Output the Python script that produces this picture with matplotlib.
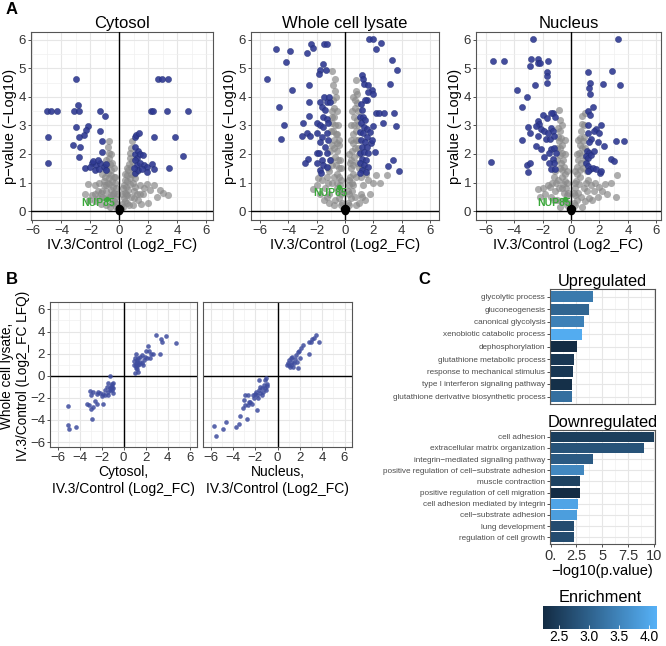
import numpy as np
import matplotlib.pyplot as plt
from matplotlib.colors import LinearSegmentedColormap, Normalize
from matplotlib.cm import ScalarMappable

plt.rcParams['font.family'] = ['Liberation Sans', 'DejaVu Sans']

# ---------------- data ----------------
# panel A: significant proteins (log2 FC, -log10 p)
cyto_sig = [(-2.99, 4.63), (-5.0, 3.51), (-4.74, 3.51), (-4.28, 3.51), (-3.13, 3.51), (-2.76, 3.51),
            (-1.33, 3.51), (-2.83, 3.72), (-1.01, 3.33), (-4.92, 2.61), (-4.9, 1.67), (-2.99, 2.95),
            (-2.14, 2.97), (-2.28, 2.84), (-2.46, 2.67), (-2.8, 2.61), (-1.33, 2.79), (-1.2, 2.44),
            (-3.22, 2.33), (-2.69, 2.26), (-2.78, 1.88), (-1.2, 2.07), (-2.37, 1.52), (-1.91, 1.67),
            (-1.61, 1.63), (-1.33, 1.67), (-1.1, 1.55), (-0.94, 1.43), (-1.68, 1.43), (-1.43, 1.49),
            (-2.02, 1.55), (-0.92, 1.64), (-1.8, 1.75), (-1.5, 1.8),
            (2.67, 4.63), (2.9, 4.63), (3.38, 4.63), (2.16, 3.51), (2.3, 3.51), (3.29, 3.51), (4.74, 3.51),
            (1.06, 2.6), (1.17, 2.67), (1.36, 2.72), (2.41, 2.61), (3.82, 2.61), (1.06, 2.0), (1.3, 2.1),
            (1.2, 1.85), (1.43, 2.0), (1.65, 1.95), (1.1, 2.25), (4.39, 1.93), (3.45, 1.52), (1.06, 1.78),
            (1.2, 1.61), (1.43, 1.69), (1.66, 1.61), (1.89, 1.55), (2.23, 1.64), (2.39, 1.49), (1.08, 1.34),
            (1.31, 1.43), (1.89, 1.38), (1.54, 1.49), (1.0, 1.5)]
whole_sig = [(-5.5, 4.64), (-4.85, 5.69), (-3.9, 5.61), (-4.19, 5.21), (-3.72, 4.23), (-4.66, 3.65),
             (-4.35, 3.02), (-4.56, 2.52), (-2.42, 5.86), (-2.26, 5.71), (-2.68, 5.55), (-1.51, 5.86),
             (-1.27, 5.86), (-1.58, 5.16), (-1.74, 4.95), (-1.32, 4.95), (-1.84, 4.81), (-2.56, 4.41),
             (-2.56, 3.82), (-2.56, 3.33), (-2.96, 3.07), (-3.01, 2.62), (-2.68, 2.72), (-2.47, 2.63),
             (-2.61, 1.84), (-2.8, 1.67), (-1.98, 3.09), (-1.76, 3.82), (-1.25, 3.82), (-1.06, 3.82),
             (-1.65, 3.65), (-1.41, 3.53), (-1.53, 3.3), (-1.29, 3.24), (-1.76, 3.0), (-1.53, 2.95),
             (-1.18, 3.07), (-2.0, 2.72), (-1.65, 2.6), (-1.29, 2.72), (-1.76, 2.42), (-1.41, 2.25),
             (-1.18, 2.48), (-2.0, 2.02), (-1.84, 2.02), (-1.29, 2.02), (-1.65, 1.78), (-2.0, 1.67),
             (-1.53, 1.61), (-1.76, 1.43), (-1.29, 1.55), (-1.69, 1.34), (-1.06, 1.78), (-1.48, 4.0),
             (-1.13, 4.0),
             (1.72, 6.01), (2.0, 6.01), (2.54, 5.89), (2.21, 5.69), (3.32, 5.3), (3.65, 4.95), (3.15, 4.44),
             (1.18, 4.75), (1.25, 4.64), (1.34, 4.46), (1.65, 4.41), (1.88, 4.23), (1.65, 4.17), (2.0, 4.09),
             (1.55, 3.88), (1.15, 3.76), (2.21, 3.44), (2.42, 3.44), (2.75, 3.44), (3.46, 3.44), (3.58, 2.97),
             (2.71, 3.07), (2.0, 2.97), (1.86, 2.37), (2.14, 2.07), (3.39, 1.78), (3.01, 1.58), (3.79, 1.41),
             (1.06, 3.3), (1.25, 3.3), (1.44, 3.18), (1.11, 3.07), (1.34, 2.95), (1.53, 2.89), (1.06, 2.77),
             (1.29, 2.72), (1.53, 2.6), (1.11, 2.48), (1.39, 2.42), (1.18, 2.25), (1.53, 2.25), (1.06, 2.02),
             (1.34, 2.07), (1.62, 2.02), (1.18, 1.84), (1.48, 1.78), (1.06, 1.67), (1.34, 1.61), (1.62, 1.55),
             (1.18, 1.43), (1.48, 1.38), (1.08, 1.32), (1.76, 2.77), (1.88, 2.48), (1.2, 3.55), (1.4, 3.9)]
nuc_sig = [(-5.51, 5.27), (-4.67, 5.27), (-2.65, 6.04), (-2.79, 5.32), (-2.33, 5.32), (-2.91, 5.08),
           (-2.35, 5.18), (-2.21, 5.18), (-1.6, 5.27), (-1.7, 4.88), (-1.67, 4.72), (-1.7, 4.5),
           (-3.77, 4.23), (-3.09, 4.01), (-2.53, 4.4), (-3.47, 3.64), (-5.63, 1.71), (-3.02, 2.94),
           (-2.88, 2.73), (-3.42, 2.48), (-3.12, 1.63), (-2.86, 1.7), (-3.05, 1.37), (-2.35, 3.15),
           (-2.26, 3.05), (-1.95, 3.37), (-1.67, 3.27), (-1.28, 3.44), (-1.12, 3.3), (-1.4, 3.44),
           (-2.46, 2.97), (-2.11, 2.86), (-1.92, 2.8), (-2.34, 2.62), (-1.4, 2.92), (-1.28, 2.8),
           (-1.64, 2.74), (-1.75, 2.51), (-1.45, 2.51), (-1.17, 2.62), (-2.46, 2.27), (-2.11, 2.16),
           (-1.4, 2.16), (-1.17, 2.22), (-1.05, 2.04), (-1.52, 2.04), (-1.92, 1.9), (-1.28, 1.81),
           (-1.17, 1.69), (-1.52, 1.69), (-1.4, 1.46), (-1.12, 1.46),
           (1.16, 4.88), (1.3, 4.47), (1.23, 4.32), (1.3, 4.11), (2.26, 4.46), (2.88, 4.92), (3.28, 6.04),
           (3.47, 4.4), (1.58, 3.65), (2.02, 1.35), (1.22, 3.5), (1.36, 3.38), (2.1, 3.03), (1.22, 3.03),
           (1.75, 2.86), (1.59, 2.8), (1.99, 2.74), (1.22, 2.74), (1.4, 2.51), (1.29, 2.41), (1.87, 2.41),
           (3.16, 2.45), (3.74, 2.45), (2.34, 2.27), (1.12, 2.1), (1.29, 2.04), (1.05, 1.92), (1.22, 1.87),
           (1.4, 1.95), (1.64, 2.1), (1.05, 1.69), (1.17, 1.57), (1.36, 1.46), (1.52, 1.52), (1.75, 1.46),
           (2.1, 1.4), (1.22, 1.4), (2.81, 1.81), (3.04, 1.75)]

# panel A: non-significant proteins (grey cloud)
cyto_ns = [(-0.1, 0.1), (-0.2, 0.25), (-0.3, 0.45), (-0.35, 0.65), (-0.45, 0.85), (-0.5, 1.05), (-0.55, 1.25),
           (-0.6, 1.45), (-0.65, 1.65), (-0.7, 1.85), (-0.75, 2.05), (-0.8, 2.25), (-0.75, 2.45),
           (-0.5, 0.3), (-0.7, 0.5), (-0.9, 0.7), (-1.1, 0.9), (-0.8, 1.0), (-1.0, 1.2), (-0.9, 1.45),
           (-1.2, 0.5), (-1.5, 0.7), (-1.4, 1.0), (-1.7, 0.9), (-1.3, 0.25), (-0.9, 0.2), (-1.9, 0.55),
           (-2.2, 0.95), (-2.4, 0.6), (-2.1, 0.4), (-1.7, 0.35), (-1.2, 1.3), (-0.4, 1.5), (-0.3, 1.0),
           (-0.25, 0.15), (-0.4, 0.35), (-0.55, 0.55), (-0.6, 0.75), (-0.7, 0.95), (-0.75, 1.15),
           (-0.8, 1.35), (-0.85, 1.6), (-0.9, 1.8), (-0.2, 0.6), (-0.25, 0.8), (-0.3, 1.2), (-0.4, 1.2),
           (-0.5, 1.7), (-0.6, 2.0), (-1.0, 1.6), (-1.2, 0.7), (-1.0, 0.45), (-0.65, 0.15), (-1.5, 0.45),
           (-1.3, 0.65), (-1.7, 0.6), (-1.1, 1.05), (-0.95, 0.9), (-0.45, 0.6),
           (0.1, 0.1), (0.2, 0.25), (0.3, 0.45), (0.35, 0.65), (0.45, 0.85), (0.5, 1.05), (0.55, 1.25),
           (0.6, 1.45), (0.65, 1.65), (0.7, 1.85), (0.75, 2.05), (0.85, 2.45), (0.5, 0.3), (0.8, 0.5),
           (1.0, 0.7), (0.9, 1.0), (1.1, 1.15), (0.8, 1.3), (1.3, 0.4), (1.6, 0.6), (1.9, 0.95), (2.1, 0.75),
           (2.4, 0.9), (2.6, 0.5), (3.0, 0.62), (3.35, 0.58), (2.0, 0.3), (1.5, 0.25), (0.9, 0.2), (1.4, 0.9),
           (0.4, 1.3), (0.3, 0.9), (1.2, 1.4), (2.8, 0.75),
           (0.25, 0.15), (0.4, 0.35), (0.55, 0.55), (0.6, 0.75), (0.7, 0.95), (0.75, 1.15), (0.8, 1.55),
           (0.85, 1.75), (0.8, 2.2), (0.2, 0.6), (0.25, 0.8), (0.35, 1.1), (0.5, 1.5), (1.0, 0.45),
           (1.2, 0.6), (1.1, 0.85), (0.65, 0.2), (1.4, 0.6), (1.7, 0.8), (1.0, 1.3), (0.45, 0.6)]
whole_ns = [(-0.1, 0.1), (-0.2, 0.3), (-0.3, 0.6), (-0.35, 0.9), (-0.4, 1.2), (-0.45, 1.5), (-0.5, 1.8),
            (-0.55, 2.1), (-0.6, 2.4), (-0.65, 2.7), (-0.7, 3.0), (-0.75, 3.3), (-0.8, 3.6), (-0.85, 3.9),
            (-0.7, 4.2), (-0.7, 4.62), (-0.92, 4.9), (-0.9, 3.3), (-1.0, 2.8), (-0.95, 2.3), (-1.0, 1.8),
            (-1.1, 1.4), (-0.9, 1.0), (-1.2, 1.0), (-1.4, 0.8), (-1.6, 1.1), (-1.9, 1.15), (-2.26, 0.76),
            (-1.8, 0.6), (-1.5, 0.4), (-1.1, 0.3), (-0.7, 0.4), (-0.6, 0.8), (-0.5, 3.0), (-0.4, 2.5),
            (-0.3, 1.5), (-1.3, 1.2), (-2.0, 0.9),
            (-0.25, 0.2), (-0.4, 0.45), (-0.5, 0.7), (-0.55, 1.0), (-0.6, 1.3), (-0.65, 1.6), (-0.7, 1.9),
            (-0.75, 2.2), (-0.8, 2.5), (-0.85, 2.8), (-0.9, 3.1), (-0.95, 3.5), (-0.85, 4.4), (-0.2, 0.7),
            (-0.25, 1.1), (-0.35, 1.8), (-0.45, 2.3), (-0.55, 2.7), (-0.6, 3.5), (-0.8, 1.2), (-0.9, 1.6),
            (-1.05, 2.1), (-1.1, 0.6), (-0.8, 0.2), (-1.3, 0.5), (-1.2, 1.5), (-0.65, 4.0),
            (0.1, 0.1), (0.2, 0.3), (0.25, 0.6), (0.3, 0.9), (0.35, 1.2), (0.4, 1.5), (0.45, 1.8), (0.5, 2.1),
            (0.55, 2.4), (0.6, 2.7), (0.62, 3.0), (0.65, 3.3), (0.7, 3.6), (0.72, 3.9), (0.75, 4.2),
            (0.75, 4.58), (0.9, 3.5), (0.95, 3.0), (0.9, 2.5), (1.0, 2.0), (1.0, 1.5), (1.1, 1.2), (1.3, 0.9),
            (1.6, 1.1), (2.0, 1.0), (2.47, 0.99), (2.96, 1.27), (1.8, 0.6), (1.4, 0.4), (1.0, 0.3), (0.7, 0.5),
            (0.6, 0.9), (0.4, 3.0), (0.3, 2.0), (2.2, 1.25), (1.5, 1.3),
            (0.25, 0.2), (0.4, 0.45), (0.5, 0.7), (0.5, 1.0), (0.55, 1.3), (0.6, 1.6), (0.65, 1.9),
            (0.7, 2.2), (0.75, 2.5), (0.8, 2.8), (0.82, 3.2), (0.85, 3.8), (0.85, 4.1), (0.2, 0.7),
            (0.25, 1.1), (0.35, 1.7), (0.45, 2.5), (0.5, 3.5), (0.8, 1.2), (0.85, 1.7), (0.9, 2.2),
            (1.1, 0.6), (0.8, 0.2), (1.2, 0.5), (1.2, 1.5), (0.6, 4.0)]
nuc_ns = [(-0.1, 0.1), (-0.2, 0.3), (-0.3, 0.55), (-0.35, 0.8), (-0.4, 1.05), (-0.45, 1.3), (-0.5, 1.55),
          (-0.55, 1.8), (-0.6, 2.05), (-0.65, 2.3), (-0.7, 2.55), (-0.75, 2.8), (-0.6, 3.0), (-0.8, 3.2),
          (-0.82, 3.53), (-0.9, 2.6), (-1.0, 2.2), (-1.0, 1.8), (-1.1, 1.4), (-0.9, 1.1), (-1.3, 1.0),
          (-1.5, 0.85), (-1.64, 0.93), (-2.0, 0.8), (-2.34, 0.76), (-1.8, 0.6), (-1.4, 0.5), (-1.0, 0.4),
          (-0.7, 0.35), (-0.6, 0.8), (-0.4, 2.0), (-1.2, 1.2), (-2.2, 0.5),
          (-0.25, 0.2), (-0.4, 0.4), (-0.5, 0.65), (-0.55, 0.95), (-0.6, 1.2), (-0.65, 1.45), (-0.7, 1.7),
          (-0.75, 1.95), (-0.8, 2.2), (-0.85, 2.45), (-0.9, 2.9), (-0.2, 0.65), (-0.25, 1.0), (-0.3, 1.4),
          (-0.45, 2.5), (-0.8, 1.5), (-0.85, 0.8), (-1.1, 0.7), (-1.2, 0.4), (-0.75, 0.15), (-1.05, 1.0),
          (0.1, 0.1), (0.2, 0.3), (0.25, 0.55), (0.3, 0.8), (0.35, 1.05), (0.4, 1.3), (0.45, 1.55), (0.5, 1.8),
          (0.55, 2.05), (0.6, 2.3), (0.65, 2.55), (0.7, 2.8), (0.75, 3.05), (0.77, 3.33), (0.98, 3.42),
          (0.9, 2.6), (1.0, 2.2), (0.95, 1.8), (1.1, 1.4), (1.2, 1.1), (1.4, 0.9), (1.7, 1.0), (2.0, 0.85),
          (2.4, 0.95), (3.2, 1.28), (3.16, 0.49), (2.5, 0.6), (1.93, 0.49), (1.5, 0.4), (1.0, 0.35),
          (0.7, 0.5), (0.4, 2.0), (2.8, 1.0),
          (0.25, 0.2), (0.4, 0.4), (0.5, 0.65), (0.55, 0.95), (0.6, 1.2), (0.65, 1.45), (0.7, 1.7),
          (0.75, 1.95), (0.8, 2.2), (0.85, 2.45), (0.9, 3.0), (0.2, 0.65), (0.25, 1.0), (0.3, 1.4),
          (0.5, 2.5), (0.85, 1.5), (0.9, 0.8), (1.1, 0.7), (1.25, 0.45), (0.75, 0.15), (1.05, 1.0),
          (1.6, 0.7), (2.2, 0.7)]
origin_pts = [(0.0, 0.02), (0.05, 0.07), (-0.05, 0.07), (0.0, 0.12)]

# NUP85 point in each compartment
nup85 = {'Cytosol': (-0.87, 0.44), 'Whole cell lysate': (-0.4, 0.85), 'Nucleus': (-0.4, 0.44)}
nup85_label = {'Cytosol': (-1.45, 0.3), 'Whole cell lysate': (-1.06, 0.62), 'Nucleus': (-1.2, 0.27)}

# panel B: compartment FC vs whole cell lysate FC
cyto_vs_whole = [(2.91, 3.64), (3.82, 3.61), (3.39, 3.3), (3.52, 3.03), (4.76, 3.0), (3.27, 1.94), (2.18, 2.73),
                 (2.0, 2.27), (2.33, 2.24), (2.48, 1.97), (2.7, 1.97), (2.39, 1.64), (1.82, 1.39), (1.7, 1.12),
                 (1.94, 1.73), (1.09, 2.0), (1.48, 1.73), (1.64, 1.88), (1.03, 1.58), (1.18, 1.27), (0.97, 0.97),
                 (1.33, 0.97), (1.09, 0.67), (1.03, 0.21), (1.27, 0.3), (1.21, 0.61), (1.45, 1.27), (0.97, 1.33),
                 (1.33, 1.58), (1.79, 0.97), (2.09, 1.64), (1.1, 1.1), (1.25, 1.45), (1.15, 0.85), (1.4, 1.1),
                 (-1.21, -0.03), (-1.39, -0.7), (-1.09, -0.79), (-0.94, -1.09), (-1.24, -1.15), (-1.55, -1.0),
                 (-1.7, -1.3), (-1.39, -1.45), (-0.94, -1.52), (-1.85, -1.61), (-2.15, -1.52), (-2.45, -1.61),
                 (-2.36, -1.45), (-2.0, -1.85), (-1.7, -1.76), (-1.85, -2.52), (-2.76, -1.45), (-3.06, -1.39),
                 (-2.97, -1.7), (-3.36, -2.52), (-3.15, -2.67), (-2.97, -2.97), (-2.82, -2.82), (-2.61, -2.3),
                 (-2.45, -2.52), (-2.91, -3.88), (-5.09, -2.73), (-5.09, -4.48), (-4.94, -4.85), (-4.36, -4.64),
                 (-1.09, -1.3), (-1.15, -0.91), (-1.0, -0.7), (-1.45, -1.76), (-1.2, -1.3), (-1.05, -1.05)]
nuc_vs_whole = [(-5.73, -4.55), (-5.55, -5.45), (-4.88, -4.85), (-4.67, -4.18), (-3.76, -4.67), (-3.45, -4.33),
                (-3.42, -3.64), (-2.76, -3.88), (-3.12, -2.91), (-2.91, -2.67), (-2.67, -2.67), (-2.45, -2.36),
                (-1.85, -3.06), (-2.91, -1.76), (-2.67, -1.76), (-3.06, -2.21), (-2.3, -2.52), (-2.15, -2.06),
                (-2.06, -1.67), (-1.85, -1.76), (-1.7, -1.3), (-1.76, -2.06), (-1.55, -1.52), (-1.39, -1.15),
                (-1.24, -0.85), (-1.15, -0.39), (-1.09, -0.18), (-1.7, -0.39), (-1.45, -1.76), (-1.33, -1.45),
                (-1.09, -1.3), (-1.0, -0.97), (-1.18, -1.15), (-0.94, -0.79), (-1.55, -1.0), (-1.94, -1.45),
                (-2.21, -1.76), (-2.61, -2.36),
                (3.45, 3.64), (3.7, 3.09), (3.24, 3.45), (3.09, 3.3), (2.85, 3.03), (3.0, 3.03), (2.24, 2.79),
                (2.09, 2.55), (2.79, 1.94), (1.94, 2.24), (1.79, 2.12), (1.64, 1.88), (1.33, 1.73), (1.18, 1.58),
                (1.03, 1.42), (0.97, 1.12), (1.18, 0.97), (1.48, 1.12), (1.7, 1.27), (2.0, 1.58), (1.82, 0.67),
                (1.09, 0.82), (1.33, 1.27), (1.55, 1.48), (1.03, 0.97), (1.39, 0.82), (0.88, 0.97)]

# panel C: GO enrichment
up_terms = ['glycolytic process', 'gluconeogenesis', 'canonical glycolysis', 'xenobiotic catabolic process',
            'dephosphorylation', 'glutathione metabolic process', 'response to mechanical stimulus',
            'type I interferon signaling pathway', 'glutathione derivative biosynthetic process']
up_logp = [4.16, 3.7, 3.2, 3.06, 2.58, 2.23, 2.16, 2.06, 2.06]
up_enrich = [3.35, 3.05, 3.45, 4.05, 2.25, 2.4, 2.4, 2.3, 3.2]
down_terms = ['cell adhesion', 'extracellular matrix organization', 'integrin\u2212mediated signaling pathway',
              'positive regulation of cell\u2212substrate adhesion', 'muscle contraction',
              'positive regulation of cell migration', 'cell adhesion mediated by integrin',
              'cell\u2212substrate adhesion', 'lung development', 'regulation of cell growth']
down_logp = [10.0, 9.1, 4.13, 3.2, 2.9, 2.87, 2.7, 2.58, 2.32, 2.26]
down_enrich = [2.5, 2.8, 2.9, 3.55, 2.55, 2.25, 3.95, 3.85, 2.7, 2.7]

# ---------------- layout ----------------
W, H = 666, 646
fig = plt.figure(figsize=(W / 100, H / 100), dpi=100)


def box(l, t, r, b):
    return [l / W, 1 - b / H, (r - l) / W, (b - t) / H]


def gg_style(ax, xmaj, ymaj, xmin, ymin, labelsize=9):
    ax.set_xticks(xmaj)
    ax.set_yticks(ymaj)
    ax.set_xticks(xmin, minor=True)
    ax.set_yticks(ymin, minor=True)
    ax.grid(which='major', color='#e6e6e6', lw=0.8)
    ax.grid(which='minor', color='#f0f0f0', lw=0.5)
    ax.set_axisbelow(True)
    for s in ax.spines.values():
        s.set_color('#555555')
        s.set_linewidth(0.8)
    ax.tick_params(which='minor', length=0)
    ax.tick_params(which='major', length=2.5, width=0.6, color='#333333',
                   labelsize=labelsize, labelcolor='#333333', pad=1)


BLUE = '#2f3a92'
GREEN = '#3aa83a'

volcano = [('Cytosol', cyto_ns, cyto_sig, (31, 213), (-6.1, 6.45)),
           ('Whole cell lysate', whole_ns, whole_sig, (251, 439), (-6.65, 6.65)),
           ('Nucleus', nuc_ns, nuc_sig, (476, 661), (-6.67, 6.32))]

for name, ns, sig, (l, r), xl in volcano:
    ax = fig.add_axes(box(l, 32, r, 220))
    nx, ny = np.array(ns).T
    sx, sy = np.array(sig).T
    ax.scatter(nx, ny, s=26, color='#8a8a8a', alpha=0.7, lw=0, zorder=2)
    ox, oy = np.array(origin_pts).T
    ax.scatter(ox, oy, s=30, color='black', lw=0, zorder=5)
    ax.scatter(sx, sy, s=20, color=BLUE, alpha=0.9, lw=0.3, edgecolors='#1e2a70', zorder=3)
    ax.axvline(0, color='black', lw=1.0, zorder=4)
    ax.axhline(0, color='black', lw=1.0, zorder=4)
    gx, gy = nup85[name]
    ax.scatter([gx], [gy], s=14, color=GREEN, lw=0, zorder=6)
    tx, ty = nup85_label[name]
    ax.text(tx, ty, 'NUP85', color=GREEN, fontsize=7.5, fontweight='bold', ha='center', va='center', zorder=6)
    ax.set_xlim(*xl)
    ax.set_ylim(-0.31, 6.27)
    gg_style(ax, np.arange(-6, 7, 2), np.arange(0, 7, 1), np.arange(-5, 6, 2), np.arange(0.5, 6.5, 1), 9.5)
    ax.set_title(name, fontsize=12, pad=3)
    ax.set_xlabel('IV.3/Control (Log2_FC)', fontsize=10.5, labelpad=1)
    ax.set_ylabel('p\u2212value (\u2212Log10)', fontsize=10.5, labelpad=1)

# panel B
for i, (pts, lab, (l, r)) in enumerate([(cyto_vs_whole, 'Cytosol,', (50, 197)),
                                         (nuc_vs_whole, 'Nucleus,', (203, 352))]):
    ax = fig.add_axes(box(l, 302, r, 447))
    px, py = np.array(pts).T
    ax.scatter(px, py, s=11, color='#3e4c9e', alpha=0.85, lw=0, zorder=3)
    ax.axvline(0, color='black', lw=1.0, zorder=2)
    ax.axhline(0, color='black', lw=1.0, zorder=2)
    ax.set_xlim(-6.7, 6.67)
    ax.set_ylim(-6.45, 6.67)
    gg_style(ax, np.arange(-6, 7, 2), np.arange(-6, 7, 2), np.arange(-5, 6, 2), np.arange(-5, 6, 2), 9.5)
    ax.set_xlabel(lab + '\nIV.3/Control (Log2_FC)', fontsize=10, labelpad=1, linespacing=1.25)
    if i == 1:
        ax.tick_params(labelleft=False, left=False)

fig.text(15 / W, 1 - 376 / H, 'Whole cell lysate,\nIV.3/Control (Log2_FC LFQ)', fontsize=9.8,
         rotation=90, ha='center', va='center', linespacing=1.2)

# panel C
cmap = LinearSegmentedColormap.from_list('gg', ['#132B43', '#56B1F7'])
norm = Normalize(2.23, 4.13)

for terms, vals, enr, (t, b), title in [(up_terms, up_logp, up_enrich, (289, 404), 'Upregulated'),
                                         (down_terms, down_logp, down_enrich, (430, 544), 'Downregulated')]:
    ax = fig.add_axes(box(550, t, 655, b))
    pos = np.arange(len(terms))[::-1]
    ax.barh(pos, vals, height=0.88, color=cmap(norm(np.array(enr))), zorder=3)
    ax.set_xlim(-0.05, 10.12)
    ax.set_ylim(-0.6, len(terms) - 0.4)
    gg_style(ax, [0, 2.5, 5, 7.5, 10], pos, [1.25, 3.75, 6.25, 8.75], [], 10.5)
    ax.set_yticklabels(terms, fontsize=5.9, color='#4d4d4d')
    ax.set_title(title, fontsize=11.8, pad=2)
    if title == 'Upregulated':
        ax.tick_params(axis='x', labelbottom=False, bottom=False)
    else:
        ax.set_xticklabels(['0.', '2.5', '5', '7.5', '10'])
        ax.set_xlabel('\u2212log10(p.value)', fontsize=10.5, labelpad=1)

cax = fig.add_axes(box(543, 606, 657, 629))
cb = fig.colorbar(ScalarMappable(norm=norm, cmap=cmap), cax=cax, orientation='horizontal',
                  ticks=[2.5, 3.0, 3.5, 4.0])
cb.outline.set_visible(False)
cax.tick_params(color='white', direction='in', length=3, width=0.6, labelsize=10, pad=1)
cax.set_xticklabels(['2.5', '3.0', '3.5', '4.0'])
cax.set_title('Enrichment', fontsize=11.8, pad=3)

fig.text(6 / W, 1 - 10 / H, 'A', fontsize=12, fontweight='bold', va='center')
fig.text(6 / W, 1 - 280 / H, 'B', fontsize=12, fontweight='bold', va='center')
fig.text(418 / W, 1 - 280 / H, 'C', fontsize=12, fontweight='bold', va='center')

fig.savefig('out.png', dpi=100)
